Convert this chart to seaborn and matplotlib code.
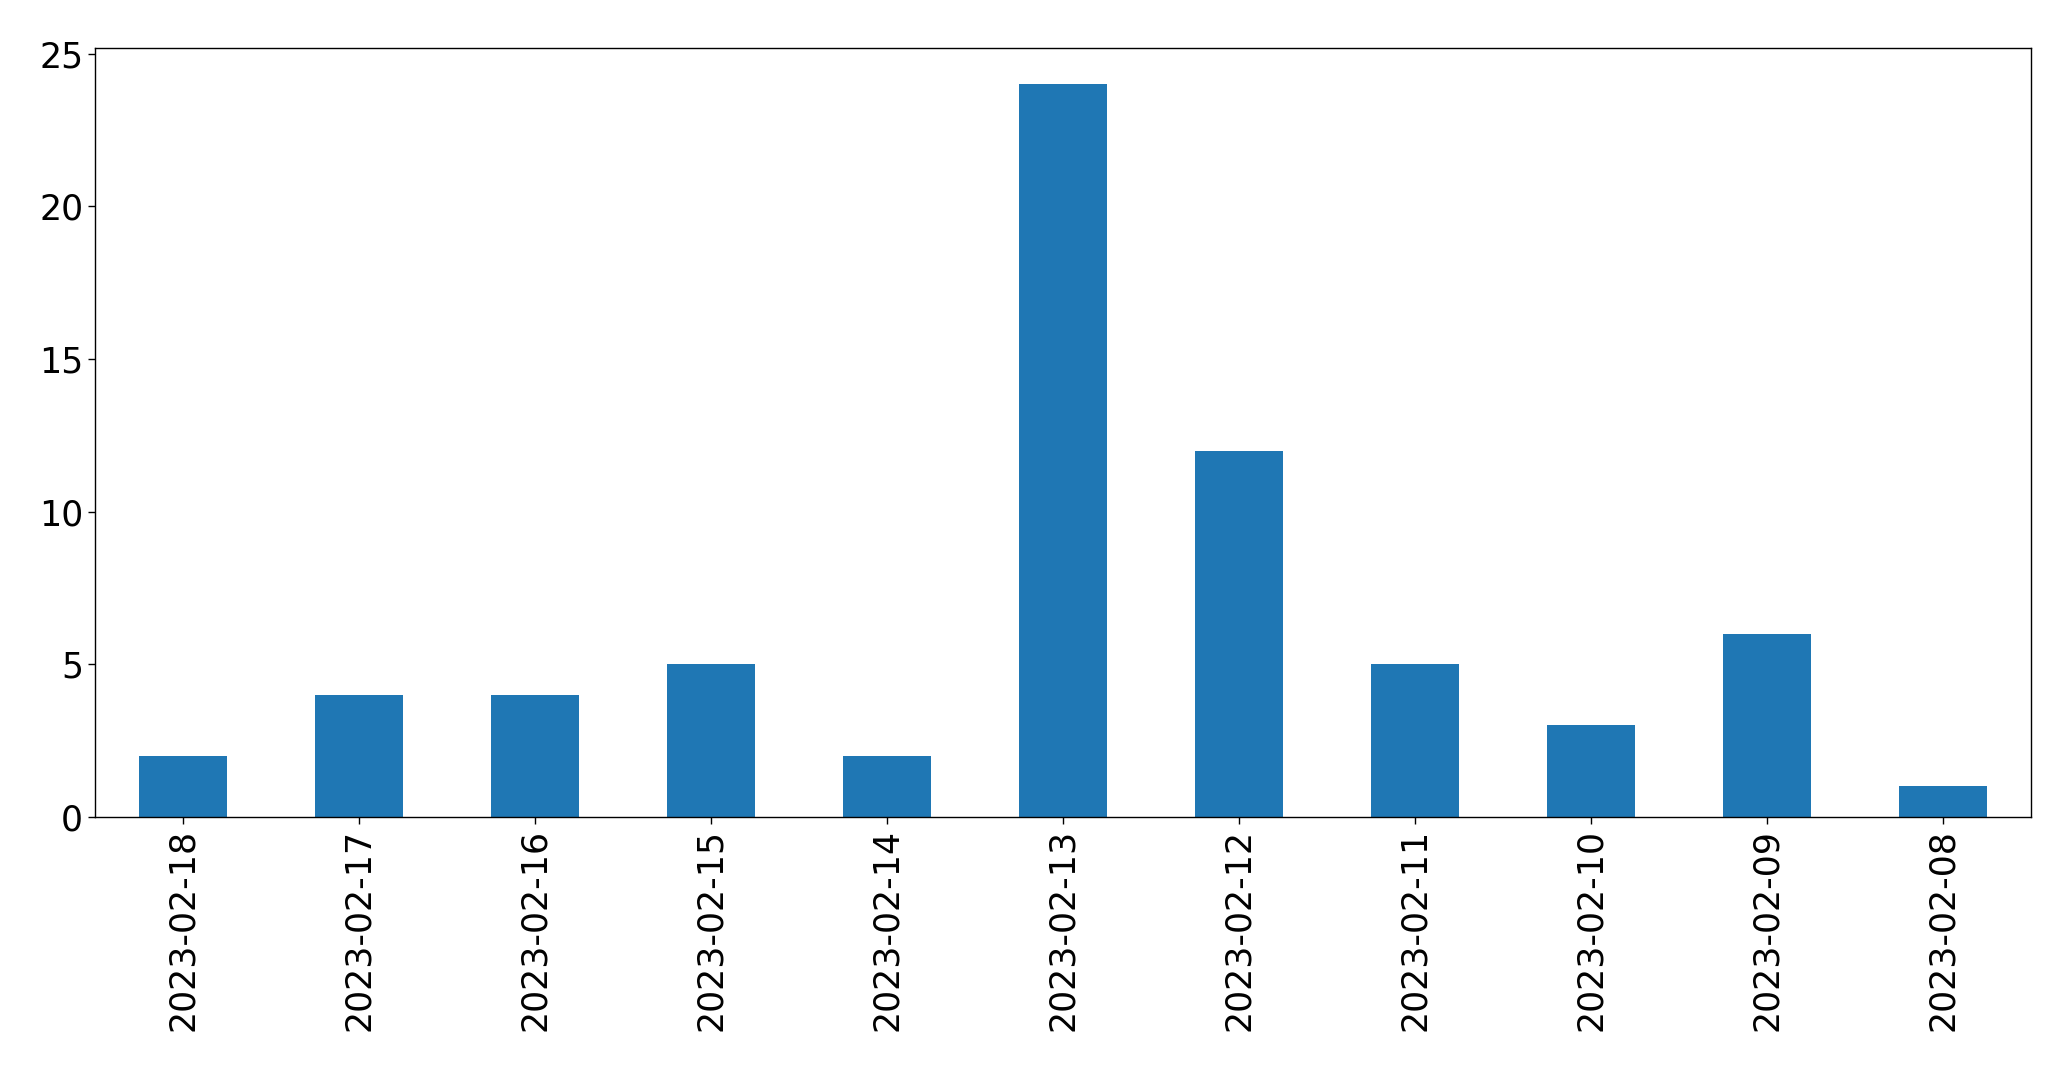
import matplotlib
matplotlib.use("Agg")
import matplotlib.pyplot as plt
import seaborn as sns
import pandas as pd

dates = ["2023-02-18", "2023-02-17", "2023-02-16", "2023-02-15", "2023-02-14", "2023-02-13",
         "2023-02-12", "2023-02-11", "2023-02-10", "2023-02-09", "2023-02-08"]
counts = [2, 4, 4, 5, 2, 24, 12, 5, 3, 6, 1]
y_ticks = [0, 5, 10, 15, 20, 25]

df = pd.DataFrame({"date": dates, "count": counts})

sns.set_style("ticks")
plt.rcParams['font.family'] = ['DejaVu Sans']

fig = plt.figure(figsize=(20.71, 10.69), dpi=100)
ax = fig.add_axes([95 / 2071, 1 - 817 / 1069, (2031 - 95) / 2071, (817 - 47.5) / 1069])

sns.barplot(data=df, x="date", y="count", color="#1f77b4", saturation=1, width=0.5,
            linewidth=0, ax=ax)

ax.set_xlim(-0.5, len(dates) - 0.5)
ax.set_ylim(0, 25.2)
ax.set_yticks(y_ticks)
ax.set_xlabel("")
ax.set_ylabel("")
ax.tick_params(axis="both", labelsize=25, length=5, width=1, color="black", labelcolor="black")
ax.tick_params(axis="x", labelrotation=90)
for s in ax.spines.values():
    s.set_visible(True)
    s.set_color("black")
    s.set_linewidth(1)

fig.savefig("out.png", dpi=100)
